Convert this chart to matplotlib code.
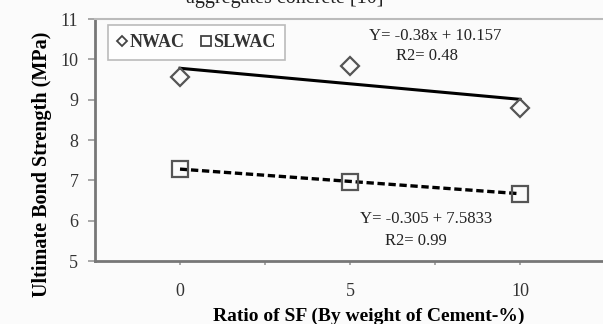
import numpy as np
import matplotlib
matplotlib.use("Agg")
import matplotlib.pyplot as plt
from matplotlib.lines import Line2D

plt.rcParams['font.family'] = ['Liberation Serif', 'DejaVu Serif']

sf_ratio = [0, 5, 10]
nwac = [9.56, 9.83, 8.79]
slwac = [7.28, 6.97, 6.67]
xtick_labels = ['0', '5', '10']
yticks = [5, 6, 7, 8, 9, 10, 11]

fig = plt.figure(figsize=(6.03, 3.24), dpi=100)
fig.patch.set_facecolor('#fbfbfb')
ax = fig.add_axes([95/603, 1-261/324, 510/603, (261-19)/324])
ax.set_facecolor('#fbfbfb')

idx = np.arange(1, len(sf_ratio)+1)
# trend lines (fit on series index, as in Excel)
p1 = np.polyfit(idx, nwac, 1)
p2 = np.polyfit(idx, slwac, 1)
ax.plot(sf_ratio, np.polyval(p1, idx), color='black', lw=2.2, zorder=2)
ax.plot(sf_ratio, np.polyval(p2, idx), color='black', lw=2.4, ls=(0, (2.2, 1.1)), zorder=2)

ax.plot(sf_ratio, nwac, ls='none', marker='D', ms=9.5, mfc='none', mec='#555555', mew=1.6, zorder=3)
ax.plot(sf_ratio, slwac, ls='none', marker='s', ms=11, mfc='none', mec='#555555', mew=1.6, zorder=3)

ax.set_xlim(-2.5, 12.5)
ax.set_ylim(5, 11)
ax.set_xticks([0, 5, 10])
ax.set_xticklabels(xtick_labels)
ax.set_xticks([2.5, 7.5], minor=True)
ax.set_yticks(yticks)
ax.tick_params(axis='both', which='both', direction='out', color='#999999', labelsize=13, labelcolor='#333333')
ax.tick_params(axis='x', which='both', length=3, width=1.2, pad=13)
ax.tick_params(axis='y', length=5, width=1.2, pad=7)

ax.spines['right'].set_visible(False)
for s in ['left', 'bottom']:
    ax.spines[s].set_color('#777777')
    ax.spines[s].set_linewidth(2)
ax.spines['top'].set_color('#bbbbbb')
ax.spines['top'].set_linewidth(1.5)

ax.set_ylabel('Ultimate Bond Strength (MPa)', fontsize=14.5, fontweight='bold', va='center')
ax.yaxis.set_label_coords((42-95)/510, (261-164)/242)
ax.set_xlabel('Ratio of SF (By weight of Cement-%)', fontsize=14, fontweight='bold', va='center')
ax.xaxis.set_label_coords((369-95)/510, (261-316)/242)

handles = [Line2D([], [], ls='none', marker='D', ms=5.5, mfc='none', mec='#444444', mew=1.3),
           Line2D([], [], ls='none', marker='s', ms=7.5, mfc='none', mec='#444444', mew=1.3)]
leg = ax.legend(handles, ['NWAC', 'SLWAC'], ncol=2, loc='upper left',
                bbox_to_anchor=((108-95)/510, (261-25)/242), borderaxespad=0,
                handlelength=0.6, handletextpad=0.1, columnspacing=0.9,
                prop={'size': 13, 'weight': 'bold'}, frameon=True, fancybox=False,
                borderpad=0.5)
leg.get_frame().set_edgecolor('#aaaaaa')
leg.get_frame().set_linewidth(1.2)
for t in leg.get_texts():
    t.set_color('#333333')

ax.text(7.5, 10.57, 'Y= -0.38x + 10.157', fontsize=12, ha='center', va='center', color='#222222')
ax.text(7.25, 10.08, 'R2= 0.48', fontsize=12, ha='center', va='center', color='#222222')
ax.text(7.25, 6.03, 'Y= -0.305 + 7.5833', fontsize=12, ha='center', va='center', color='#222222')
ax.text(6.95, 5.5, 'R2= 0.99', fontsize=12, ha='center', va='center', color='#222222')

fig.text(285/603, 1-2.5/324, 'aggregates concrete [10]', fontsize=14.5, ha='center', va='baseline', color='#222222')

fig.savefig('out.png', dpi=100, facecolor=fig.get_facecolor())
